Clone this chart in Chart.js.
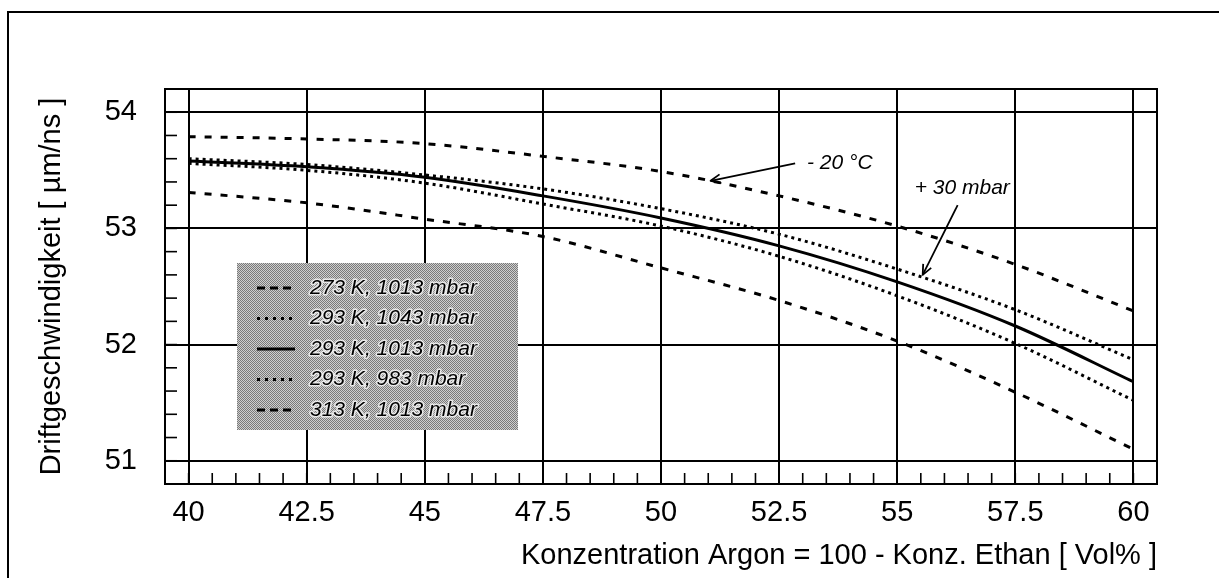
<!DOCTYPE html>
<html><head><meta charset="utf-8">
<script src="https://cdn.jsdelivr.net/npm/chart.js@4.4.1/dist/chart.umd.min.js"></script>
<style>html,body{margin:0;padding:0;background:#fff;overflow:hidden}canvas{display:block}</style>
</head><body>
<canvas id="c" width="1219" height="578"></canvas>
<script>
// ---- data ----
const concentrations = [40, 42.5, 45, 47.5, 50, 52.5, 55, 57.5, 60];
const v273K1013 = [53.79, 53.77, 53.73, 53.62, 53.49, 53.28, 53.02, 52.69, 52.29];
const v293K1043 = [53.60, 53.55, 53.46, 53.34, 53.17, 52.95, 52.65, 52.30, 51.87];
const v293K1013 = [53.58, 53.53, 53.44, 53.28, 53.09, 52.85, 52.54, 52.16, 51.68];
const v293K983  = [53.56, 53.50, 53.39, 53.21, 53.02, 52.76, 52.42, 52.01, 51.52];
const v313K1013 = [53.31, 53.22, 53.08, 52.93, 52.66, 52.38, 52.03, 51.59, 51.10];
const seriesLabels = ['273 K, 1013 mbar', '293 K, 1043 mbar', '293 K, 1013 mbar', '293 K, 983 mbar', '313 K, 1013 mbar'];
const xTickValues = [40, 42.5, 45, 47.5, 50, 52.5, 55, 57.5, 60];
const yTickValues = [51, 52, 53, 54];
const xMinorStep = 0.5;
const yMinorStep = 0.2;
const xTitle = 'Konzentration Argon = 100 - Konz. Ethan [ Vol% ]';
const yTitle = 'Driftgeschwindigkeit [ \u00B5m/ns ]';
const annotationTexts = ['- 20 \u00B0C', '+ 30 mbar'];

// ---- styles / layout (not data) ----
const FONT = '"Liberation Sans", Arial, Helvetica, sans-serif';
const DASH = [7, 9], DOT = [3, 4];
const styles = [
  {dash: DASH, legendDash: [8, 5]},
  {dash: DOT, legendDash: [3, 5]},
  {dash: [], legendDash: []},
  {dash: DOT, legendDash: [3, 5]},
  {dash: DASH, legendDash: [8, 5]}
];
const annotationLayout = [
  {tail: [52.84, 53.56], tip: [51.05, 53.41], text: [53.09, 53.56]},
  {tail: [56.28, 53.20], tip: [55.54, 52.60], text: [55.37, 53.35]}
];

const seriesValues = [v273K1013, v293K1043, v293K1013, v293K983, v313K1013];
const datasets = seriesValues.map((vals, i) => ({
  label: seriesLabels[i],
  data: concentrations.map((c, k) => ({x: c, y: vals[k]})),
  borderColor: '#000',
  borderWidth: 3,
  borderDash: styles[i].dash,
  borderCapStyle: 'butt',
  pointRadius: 0,
  fill: false,
  cubicInterpolationMode: 'monotone'
}));

function steps(from, to, step) {
  const n = Math.round((to - from) / step);
  const out = [];
  for (let k = 0; k <= n; k++) out.push(from + k * step);
  return out;
}

function drawArrow(ctx, x1, y1, x2, y2) {
  ctx.beginPath(); ctx.moveTo(x1, y1); ctx.lineTo(x2, y2); ctx.stroke();
  const ang = Math.atan2(y1 - y2, x1 - x2);
  const L = 11, spread = 0.42;
  ctx.beginPath();
  ctx.moveTo(x2 + L * Math.cos(ang + spread), y2 + L * Math.sin(ang + spread));
  ctx.lineTo(x2, y2);
  ctx.lineTo(x2 + L * Math.cos(ang - spread), y2 + L * Math.sin(ang - spread));
  ctx.stroke();
}

const extras = {
  id: 'extras',
  beforeDraw(chart) {
    const ctx = chart.ctx;
    ctx.save();
    ctx.strokeStyle = '#000'; ctx.lineWidth = 2;
    ctx.beginPath(); ctx.moveTo(8, chart.height); ctx.lineTo(8, 12); ctx.lineTo(chart.width + 5, 12); ctx.stroke();
    ctx.restore();
  },
  afterDatasetsDraw(chart) {
    const {ctx, chartArea: a, scales: {x, y}} = chart;
    ctx.save();
    ctx.strokeStyle = '#000'; ctx.lineWidth = 2; ctx.setLineDash([]);
    ctx.strokeRect(a.left, a.top, a.right - a.left, a.bottom - a.top);
    // minor ticks
    ctx.lineWidth = 1.6;
    steps(xTickValues[0], xTickValues[xTickValues.length - 1], xMinorStep).forEach(v => {
      const px = x.getPixelForValue(v);
      ctx.beginPath(); ctx.moveTo(px, a.bottom); ctx.lineTo(px, a.bottom - 11); ctx.stroke();
    });
    steps(yTickValues[0], yTickValues[yTickValues.length - 1], yMinorStep).forEach(v => {
      const py = y.getPixelForValue(v);
      ctx.beginPath(); ctx.moveTo(a.left, py); ctx.lineTo(a.left + 12, py); ctx.stroke();
    });
    // legend box
    const lx = a.left + 72, ly = a.top + 174, lw = 281, lh = 167;
    const pc = document.createElement('canvas'); pc.width = 2; pc.height = 2;
    const p = pc.getContext('2d');
    p.fillStyle = '#cfcfcf'; p.fillRect(0, 0, 2, 2);
    p.fillStyle = '#7a7a7a'; p.fillRect(0, 0, 1, 1); p.fillRect(1, 1, 1, 1);
    ctx.fillStyle = ctx.createPattern(pc, 'repeat');
    ctx.fillRect(lx, ly, lw, lh);
    ctx.font = 'italic 21px ' + FONT;
    ctx.textBaseline = 'middle'; ctx.textAlign = 'left';
    chart.data.datasets.forEach((ds, i) => {
      const cy = ly + 25 + i * 30.5;
      ctx.strokeStyle = '#000'; ctx.lineWidth = 3; ctx.lineCap = 'butt';
      ctx.setLineDash(styles[i].legendDash);
      ctx.beginPath(); ctx.moveTo(lx + 20, cy); ctx.lineTo(lx + 58, cy); ctx.stroke();
      ctx.setLineDash([]);
      ctx.lineWidth = 3; ctx.strokeStyle = 'rgba(255,255,255,0.75)'; ctx.lineJoin = 'round';
      ctx.strokeText(ds.label, lx + 73, cy);
      ctx.fillStyle = '#000';
      ctx.fillText(ds.label, lx + 73, cy);
    });
    // annotations
    ctx.setLineDash([]); ctx.strokeStyle = '#000'; ctx.lineWidth = 1.8;
    ctx.font = 'italic 21px ' + FONT; ctx.fillStyle = '#000';
    annotationLayout.forEach((an, i) => {
      drawArrow(ctx, x.getPixelForValue(an.tail[0]), y.getPixelForValue(an.tail[1]),
                     x.getPixelForValue(an.tip[0]), y.getPixelForValue(an.tip[1]));
      ctx.fillText(annotationTexts[i], x.getPixelForValue(an.text[0]), y.getPixelForValue(an.text[1]));
    });
    ctx.restore();
  }
};

new Chart(document.getElementById('c'), {
  type: 'line',
  data: {datasets},
  plugins: [extras],
  options: {
    responsive: false,
    animation: false,
    events: [],
    layout: {padding: {top: 89, right: 62, left: 0, bottom: 0}},
    plugins: {legend: {display: false}, tooltip: {enabled: false}},
    scales: {
      x: {
        type: 'linear', min: 39.5, max: 60.5,
        afterBuildTicks: s => { s.ticks = xTickValues.map(v => ({value: v})); },
        afterFit: s => { s.height = 94; },
        grid: {color: '#000', lineWidth: 2, drawTicks: false},
        border: {display: false},
        ticks: {color: '#000', font: {family: FONT, size: 29}, padding: 12, maxRotation: 0, autoSkip: false,
                callback: v => String(v)},
        title: {display: true, text: xTitle, align: 'end', color: '#000', font: {family: FONT, size: 29}, padding: {top: 0, bottom: 5}}
      },
      y: {
        type: 'linear', min: 50.8, max: 54.2,
        afterBuildTicks: s => { s.ticks = yTickValues.map(v => ({value: v})); },
        afterFit: s => { s.width = 165; },
        grid: {color: '#000', lineWidth: 2, drawTicks: false},
        border: {display: false},
        ticks: {color: '#000', font: {family: FONT, size: 29}, padding: 28, callback: v => String(v)},
        title: {display: true, text: yTitle, align: 'center', color: '#000', font: {family: FONT, size: 29}, padding: {top: 35, bottom: 0}}
      }
    }
  }
});
</script>
</body></html>
